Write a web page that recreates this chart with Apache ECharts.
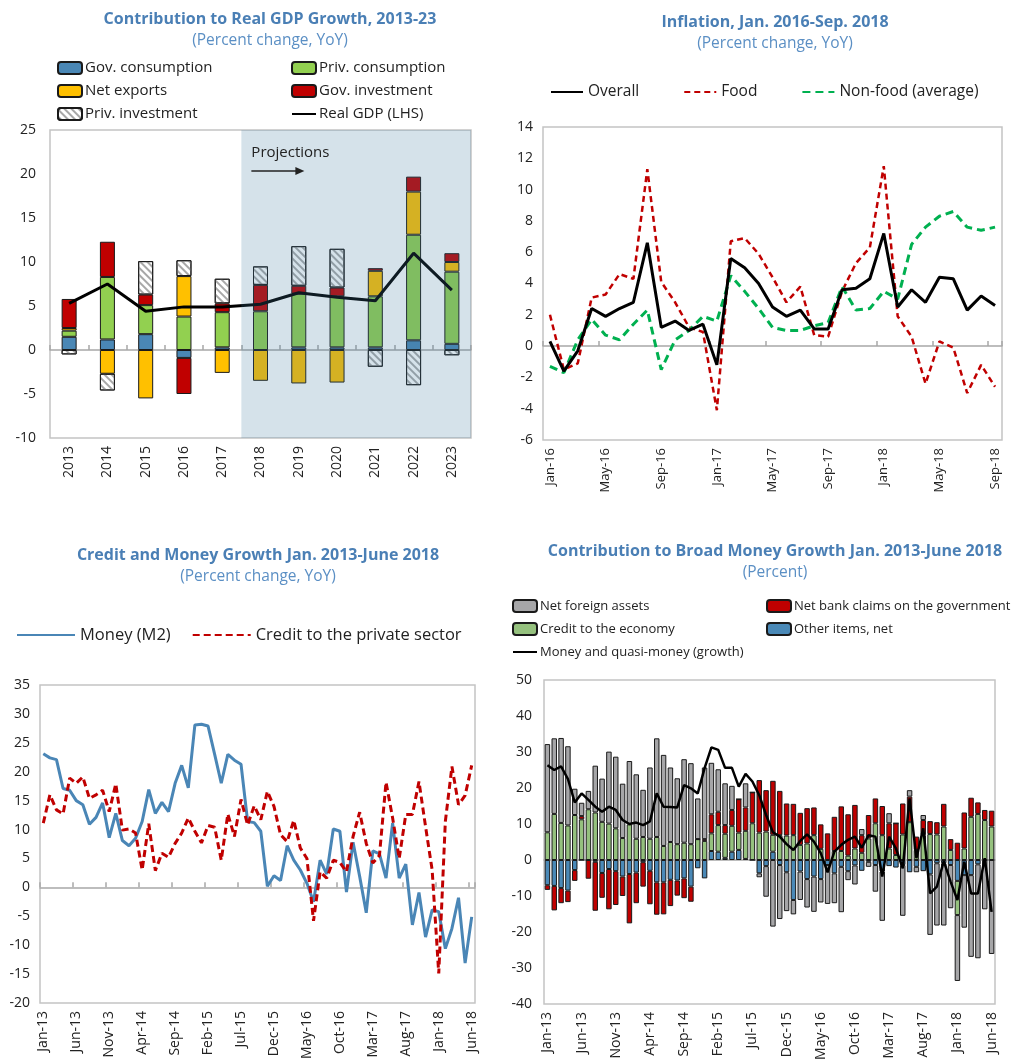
<!DOCTYPE html>
<html>
<head>
<meta charset="utf-8">
<script src="https://cdn.jsdelivr.net/npm/echarts@6/dist/echarts.min.js"></script>
<style>
  html, body { margin: 0; padding: 0; background: #fff; }
  #main { width: 1015px; height: 1061px; }
</style>
</head>
<body>
<div id="main"></div>
<script>
// month labels like "Jan-16"
function monthLabels(startYear, count) {
  const names = ['Jan','Feb','Mar','Apr','May','Jun','Jul','Aug','Sep','Oct','Nov','Dec'];
  const out = [];
  for (let k = 0; k < count; k++) {
    out.push(names[k % 12] + '-' + String((startYear + Math.floor(k / 12)) % 100).padStart(2, '0'));
  }
  return out;
}

// --- Contribution to real GDP growth
const years = ['2013','2014','2015','2016','2017','2018','2019','2020','2021','2022','2023'];
const govCons  = [1.5, 1.2, 1.8, -0.9, 0.3, 0, 0.3, 0.3, 0.3, 1.1, 0.7];
const privCons = [0.7, 7.1, 3.3, 3.8, 4.0, 4.4, 6.1, 5.8, 5.8, 12.0, 8.2];
const netExports = [0.3, -2.7, -5.5, 4.6, -2.6, -3.5, -3.8, -3.7, 2.9, 4.9, 1.1];
const govInv   = [3.3, 4.0, 1.2, -4.1, 1.0, 3.0, 0.9, 1.0, 0.3, 1.7, 1.0];
const privInv  = [-0.5, -1.9, 3.8, 1.8, 2.8, 2.1, 4.5, 4.4, -1.9, -4.0, -0.6];
const realGdp  = [5.3, 7.5, 4.4, 4.9, 4.9, 5.2, 6.5, 6.0, 5.6, 11.0, 6.8];
const firstProjection = '2018';

// --- Inflation
const inflMonths = monthLabels(2016, 33);
const overall = [0.3, -1.6, -0.3, 2.4, 1.9, 2.4, 2.8, 6.6, 1.2, 1.6, 1.0, 1.4, -1.2, 5.6, 5.0, 4.0, 2.5,
  1.9, 2.3, 1.1, 1.1, 3.6, 3.7, 4.3, 7.2, 2.5, 3.6, 2.8, 4.4, 4.3, 2.3, 3.2, 2.6];
const food = [2.0, -1.5, -1.1, 3.1, 3.3, 4.6, 4.3, 11.3, 4.1, 2.8, 1.2, 0.9, -4.1, 6.7, 6.9, 5.9, 4.4,
  2.8, 3.8, 0.7, 0.6, 3.5, 5.3, 6.3, 11.5, 1.9, 0.6, -2.4, 0.3, -0.1, -3.0, -1.2, -2.6];
const nonFood = [-1.3, -1.7, 0.4, 1.7, 0.7, 0.4, 1.4, 2.3, -1.5, 0.4, 1.0, 1.9, 1.6, 4.5, 3.5, 2.4, 1.2,
  1.0, 1.0, 1.3, 1.5, 3.8, 2.3, 2.4, 3.5, 3.0, 6.5, 7.6, 8.3, 8.6, 7.6, 7.4, 7.6];

// --- Credit and money growth
const moneyMonths = monthLabels(2013, 66);
const moneyM2 = [23.1, 22.4, 22.1, 17.1, 16.8, 15.0, 14.3, 10.9, 12.1, 14.6, 8.6, 12.8, 8.1, 7.2, 8.5,
  11.4, 16.9, 12.8, 14.7, 13.1, 18.0, 21.1, 17.2, 28.1, 28.2, 27.9, 23.0, 18.0, 23.0, 22.0, 21.3, 11.4,
  11.2, 9.7, 0.2, 2.0, 1.2, 7.2, 4.7, 3.0, 0.7, -2.5, 4.7, 2.3, 10.1, 9.7, -0.8, 7.8, 1.9, -4.4, 6.3,
  5.8, 1.6, 11.1, 1.6, 4.0, -6.5, -0.9, -8.6, -3.9, -4.2, -10.6, -7.1, -1.8, -13.1, -5.1];
const creditPriv = [11.1, 16.0, 13.4, 12.7, 18.9, 18.0, 19.1, 15.4, 16.0, 16.8, 13.1, 17.9, 9.9, 10.1,
  9.4, 3.0, 11.0, 2.9, 5.9, 5.2, 7.6, 9.4, 12.0, 9.7, 7.7, 10.7, 10.4, 4.7, 12.7, 8.8, 15.2, 10.8, 14.1,
  11.7, 16.6, 14.0, 9.1, 7.9, 11.6, 6.8, 5.0, -5.8, 2.7, 1.6, 4.7, 4.3, 2.7, 8.8, 13.0, 7.6, 4.2, 5.5,
  18.2, 12.0, 5.0, 12.6, 12.6, 18.3, 10.5, 3.0, -14.9, 11.4, 20.9, 14.3, 15.9, 21.1];

// --- Contribution to broad money growth
const otherItems = [-7.0, -7.2, -7.8, -8.5, -2.8, 0, 0, -0.5, -3.6, -2.5, -3.1, -4.6, -3.9, -3.5, -0.6,
  -3.0, -6.2, -6.2, -5.5, -5.7, -5.1, -7.4, -2.3, -5.1, 2.5, 2.3, 0.6, 2.3, 2.8, 0.3, 0, -3.7, -1.7, 2.3,
  -1.4, -3.4, -11.1, -3.2, -5.3, -4.6, -5.3, -1.4, -3.7, -1.9, -3.1, -1.5, -3.0, -0.5, -1.4, -3.2, -1.7,
  -2.1, -1.4, -3.4, -1.9, -3.1, -4.0, -0.9, -0.9, -1.4, -5.8, -4.2, -4.2, -1.2, 0, 0];
const creditEcon = [7.7, 12.8, 10.3, 9.6, 12.5, 11.3, 14.1, 13.2, 10.6, 10.1, 8.8, 6.1, 9.9, 5.9, 6.4,
  5.9, 6.4, 3.9, 5.0, 4.4, 4.8, 4.4, 5.8, 5.3, 4.9, 7.4, 6.7, 7.2, 4.8, 7.8, 10.2, 7.6, 7.9, 4.7, 6.9,
  6.8, 6.9, 4.2, 4.6, 6.9, 3.1, 0, 2.5, 2.5, 1.2, 3.2, 2.0, 6.0, 10.2, 6.9, 3.2, 1.4, 7.1, 10.5, 2.8,
  6.9, 7.2, 7.1, 9.3, 2.8, -9.5, 3.2, 12.0, 12.8, 11.1, 9.3];
const govClaims = [-1.3, -6.8, -4.2, -3.2, -3.0, 0.9, -5.2, -13.6, -6.9, -11.2, -9.4, -5.4, -13.7, -8.5,
  -6.8, -9.3, -9.0, -8.9, -7.3, -4.2, -5.5, -4.2, 0, 0.5, 5.3, 3.7, 2.4, 4.4, 9.3, 6.5, 8.6, 14.6, 11.5,
  15.0, 12.3, 8.9, 8.7, 8.9, 9.8, 7.7, 6.8, 7.4, 9.5, 12.4, 11.5, 12.1, 4.9, 6.5, 6.9, 8.1, 7.0, 8.8,
  8.6, 7.1, 3.7, 4.2, 3.6, 3.4, 6.3, 3.0, 4.8, 10.0, 5.3, 3.2, 2.8, 4.4];
const nfa = [24.5, 21.0, 23.6, 22.0, 7.3, 3.7, 5.1, 13.0, 12.0, 20.0, 19.9, 15.1, 17.6, 17.9, 13.1, 19.8,
  27.4, 25.3, 20.7, 18.3, 23.2, 22.5, 11.3, 19.9, 14.3, 11.8, 11.6, 6.7, 0, 6.7, 0, -1.1, -8.5, -18.5,
  -15.0, -10.8, -4.0, -7.9, -7.9, -9.8, -6.5, -10.8, -8.3, -12.6, -2.5, -5.3, 1.7, -1.4, -7.4, -13.7,
  2.8, 0, -14.1, 1.8, -1.5, 1.4, -16.8, -17.3, -17.3, -12.0, -18.3, -14.6, -22.7, -26.1, -13.7, -26.1];
const broadMoney = [26.3, 25.0, 26.0, 22.5, 16.0, 18.5, 16.7, 14.8, 13.4, 14.8, 13.9, 11.1, 10.0, 10.4,
  9.7, 10.7, 18.5, 14.8, 14.7, 14.6, 20.8, 19.9, 18.5, 25.5, 31.3, 30.6, 25.6, 25.6, 20.4, 23.9, 21.8,
  18.0, 12.5, 7.7, 6.5, 4.4, 2.8, 5.3, 7.1, 5.1, 1.9, -3.4, 2.3, 4.2, 5.6, 6.5, 3.4, 6.9, 6.5, -4.6,
  6.5, 3.2, -2.3, 17.1, 0.5, 8.8, -9.3, -7.4, -0.3, -6.0, -11.1, -0.5, -9.3, -9.3, 0.5, -14.4];

const FONT = "'Open Sans', 'Noto Sans', sans-serif";
const TXT = '#222';
const EDGE = '#1a1a1a';

function panelTitle(text, sub, cx, top) {
  return {
    text: text, subtext: sub, left: cx, top: top, textAlign: 'center', itemGap: 2,
    textStyle: { fontFamily: FONT, fontSize: 16, fontWeight: 'bold', color: '#4a7fb5', lineHeight: 20 },
    subtextStyle: { fontFamily: FONT, fontSize: 15.5, color: '#5b8fc4', lineHeight: 20 }
  };
}
function grid(l, t, w, h) {
  return { left: l, top: t, width: w, height: h, show: true, borderColor: '#c4c4c4', borderWidth: 1.5,
    containLabel: false, outerBoundsMode: 'none' };
}
function valueAxis(gi, min, max, interval, fontSize, margin) {
  return { type: 'value', gridIndex: gi, min: min, max: max, interval: interval,
    splitLine: { show: false }, axisLine: { show: false }, axisTick: { show: false },
    axisLabel: { fontFamily: FONT, fontSize: fontSize, color: TXT, margin: margin } };
}
function labelAxis(gi, data, interval, fontSize) {
  return { type: 'category', gridIndex: gi, data: data, position: 'bottom', boundaryGap: true,
    axisLine: { show: false, onZero: false }, axisTick: { show: false },
    axisLabel: { interval: interval, rotate: 90, fontFamily: FONT, fontSize: fontSize, color: TXT, margin: 8 } };
}
function zeroAxis(gi, data, tickInterval, showTicks) {
  return { type: 'category', gridIndex: gi, data: data, position: 'bottom', boundaryGap: true,
    axisLine: { show: true, onZero: true, lineStyle: { color: '#a8a8a8', width: 1.5 } },
    axisTick: { show: showTicks, inside: true, length: 5, interval: tickInterval, lineStyle: { color: '#a8a8a8', width: 1.5 } },
    axisLabel: { show: false } };
}
// legend entry for a line series: hide the symbol that ECharts puts on the line icon
function lineEntry(name) {
  return { name: name, itemStyle: { opacity: 0 } };
}
function legend(left, top, data, opts) {
  return Object.assign({
    left: left, top: top, orient: 'vertical', data: data, itemWidth: 24, itemHeight: 12, itemGap: 3,
    selectedMode: false, padding: 0,
    textStyle: { fontFamily: FONT, fontSize: 15, color: TXT, lineHeight: 20, padding: [0, 0, 0, -2] }
  }, opts || {});
}
function gdpBar(name, data, color, extra) {
  return { name: name, type: 'bar', stack: 'gdp', xAxisIndex: 0, yAxisIndex: 0, barWidth: 15, data: data,
    itemStyle: Object.assign({ color: color, borderColor: EDGE, borderWidth: 1 }, extra || {}) };
}
function bmBar(name, data, color) {
  return { name: name, type: 'bar', stack: 'bm', xAxisIndex: 6, yAxisIndex: 3, barWidth: '80%', data: data,
    itemStyle: { color: color, borderColor: EDGE, borderWidth: 1 } };
}

const chart = echarts.init(document.getElementById('main'), null, { renderer: 'canvas' });

const option = {
  animation: false,
  backgroundColor: '#fff',
  title: [
    panelTitle('Contribution to Real GDP Growth, 2013-23', '(Percent change, YoY)', 265, 4),
    panelTitle('Inflation, Jan. 2016-Sep. 2018', '(Percent change, YoY)', 770, 7),
    panelTitle('Credit and Money Growth Jan. 2013-June 2018', '(Percent change, YoY)', 253, 540),
    panelTitle('Contribution to Broad Money Growth Jan. 2013-June 2018', '(Percent)', 770, 536)
  ],
  legend: [
    legend(57, 58, ['Gov. consumption', 'Net exports', 'Priv. investment']),
    legend(291, 58, ['Priv. consumption', 'Gov. investment', lineEntry('Real GDP (LHS)')]),
    legend(550, 82, [lineEntry('Overall'), lineEntry('Food'), lineEntry('Non-food (average)')],
      { orient: 'horizontal', itemWidth: 32, itemGap: 44,
        textStyle: { fontFamily: FONT, fontSize: 15.5, color: TXT, lineHeight: 20 } }),
    legend(16, 625, [lineEntry('Money (M2)'), lineEntry('Credit to the private sector')],
      { orient: 'horizontal', itemWidth: 58, itemGap: 21,
        textStyle: { fontFamily: FONT, fontSize: 16.5, color: TXT, lineHeight: 20 } }),
    legend(512, 596, ['Net foreign assets', 'Credit to the economy', lineEntry('Money and quasi-money (growth)')],
      { textStyle: { fontFamily: FONT, fontSize: 13, color: TXT, lineHeight: 20, padding: [0, 0, 0, -2] } }),
    legend(766, 596, ['Net bank claims on the government', 'Other items, net'],
      { textStyle: { fontFamily: FONT, fontSize: 13, color: TXT, lineHeight: 20, padding: [0, 0, 0, -2] } })
  ],
  grid: [
    grid(50, 130, 421, 308),
    grid(543, 127, 459, 313),
    grid(40, 685, 435, 318),
    grid(544, 680, 451, 324)
  ],
  xAxis: [
    labelAxis(0, years, 0, 14),
    zeroAxis(0, years, 0, true),
    labelAxis(1, inflMonths, 3, 13),
    zeroAxis(1, inflMonths, 3, true),
    labelAxis(2, moneyMonths, 4, 14),
    zeroAxis(2, moneyMonths, 4, true),
    labelAxis(3, moneyMonths, 4, 14),
    zeroAxis(3, moneyMonths, 4, false)
  ],
  yAxis: [
    valueAxis(0, -10, 25, 5, 14, 14),
    valueAxis(1, -6, 14, 2, 14, 10),
    valueAxis(2, -20, 35, 5, 14, 10),
    valueAxis(3, -40, 50, 10, 14, 12)
  ],
  series: [
    gdpBar('Gov. consumption', govCons, '#4a87b5'),
    gdpBar('Priv. consumption', privCons, '#92d050'),
    gdpBar('Net exports', netExports, '#ffc000'),
    gdpBar('Gov. investment', govInv, '#c00000'),
    gdpBar('Priv. investment', privInv, '#ffffff', {
      decal: { symbol: 'rect', symbolSize: 1, color: '#a8a8a8', dashArrayX: [1, 0], dashArrayY: [1.2, 3], rotation: Math.PI / 4 }
    }),
    { name: 'Real GDP (LHS)', type: 'line', xAxisIndex: 0, yAxisIndex: 0, data: realGdp, symbol: 'none', z: 3,
      lineStyle: { color: '#000', width: 3 }, itemStyle: { color: '#000' } },
    { name: 'projection', type: 'custom', xAxisIndex: 0, yAxisIndex: 0, z: 10, silent: true,
      data: [[years.indexOf(firstProjection), years.length - 1]],
      renderItem: function (params, api) {
        const cs = params.coordSys;
        const band = api.size([1, 0])[0];
        const x0 = api.coord([api.value(0), 0])[0] - band / 2;
        const x1 = api.coord([api.value(1), 0])[0] + band / 2;
        return { type: 'group', children: [
          { type: 'rect', shape: { x: x0, y: cs.y, width: x1 - x0, height: cs.height },
            style: { fill: 'rgba(64,123,160,0.22)' } },
          { type: 'text', x: x0 + 10, y: cs.y + 23,
            style: { text: 'Projections', fill: TXT, fontSize: 15, fontFamily: FONT, verticalAlign: 'middle' } },
          { type: 'line', shape: { x1: x0 + 10, y1: cs.y + 41, x2: x0 + 56, y2: cs.y + 41 },
            style: { stroke: TXT, lineWidth: 1.5 } },
          { type: 'polygon', shape: { points: [[x0 + 54, cs.y + 37], [x0 + 63, cs.y + 41], [x0 + 54, cs.y + 45]] },
            style: { fill: TXT } }
        ] };
      }
    },

    { name: 'Overall', type: 'line', xAxisIndex: 2, yAxisIndex: 1, data: overall, symbol: 'none', z: 4,
      lineStyle: { color: '#000', width: 3 }, itemStyle: { color: '#000' } },
    { name: 'Food', type: 'line', xAxisIndex: 2, yAxisIndex: 1, data: food, symbol: 'none', z: 3,
      lineStyle: { color: '#c00000', width: 2.5, type: [6, 4] }, itemStyle: { color: '#c00000' } },
    { name: 'Non-food (average)', type: 'line', xAxisIndex: 2, yAxisIndex: 1, data: nonFood, symbol: 'none', z: 3,
      lineStyle: { color: '#00b050', width: 3, type: [8, 5] }, itemStyle: { color: '#00b050' } },

    { name: 'Money (M2)', type: 'line', xAxisIndex: 4, yAxisIndex: 2, data: moneyM2, symbol: 'none',
      lineStyle: { color: '#4a86b6', width: 3 }, itemStyle: { color: '#4a86b6' } },
    { name: 'Credit to the private sector', type: 'line', xAxisIndex: 4, yAxisIndex: 2, data: creditPriv, symbol: 'none',
      lineStyle: { color: '#c00000', width: 3, type: [7, 4] }, itemStyle: { color: '#c00000' } },

    bmBar('Other items, net', otherItems, '#4a89b7'),
    bmBar('Credit to the economy', creditEcon, '#95c17e'),
    bmBar('Net bank claims on the government', govClaims, '#c00000'),
    bmBar('Net foreign assets', nfa, '#a6a6a8'),
    { name: 'Money and quasi-money (growth)', type: 'line', xAxisIndex: 6, yAxisIndex: 3, data: broadMoney,
      symbol: 'none', z: 4, lineStyle: { color: '#000', width: 2.5 }, itemStyle: { color: '#000' } }
  ]
};

chart.setOption(option);
</script>
</body>
</html>
